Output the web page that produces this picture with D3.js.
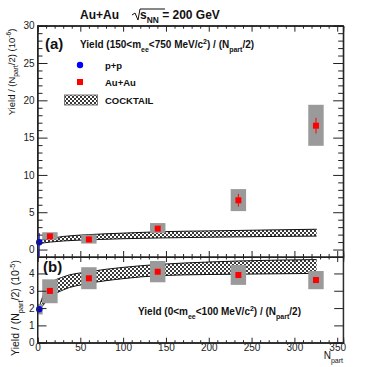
<!DOCTYPE html>
<html>
<head>
<meta charset="utf-8">
<script src="https://cdn.jsdelivr.net/npm/d3@7"></script>
<style>
  body { margin: 0; background: #fff; }
  svg { display: block; font-family: "Liberation Sans", Arial, sans-serif; }
  .tick text { font-size: 10px; fill: #222; }
  .domain { stroke: #222; }
  .tick line { stroke: #222; }
</style>
</head>
<body>
<div id="chart"></div>
<script>
// Npart of the centrality classes
const npart = [14.5, 60.0, 140.4, 234.6, 325.2];
const ppNpart = [2];

// panel (a): 150 < m_ee < 750 MeV/c2, units 1e-6
const aYield = [1.77, 1.35, 2.8, 6.6, 16.6];
const aStat = [0.25, 0.2, 0.3, 0.85, 1.05];
const aSysLo = [0.45, 0.55, 0.6, 1.45, 2.7];
const aSysHi = [0.55, 0.65, 0.75, 1.5, 2.8];
const ppAYield = [0.97];
const ppAErrLo = [1.9];
const ppAErrHi = [1.25];

// panel (b): 0 < m_ee < 100 MeV/c2, units 1e-5
const bYield = [2.99, 3.72, 4.1, 3.91, 3.62];
const bSysLo = [0.71, 0.63, 0.61, 0.57, 0.53];
const bSysHi = [0.67, 0.64, 0.62, 0.58, 0.52];
const ppBYield = [1.93];
const ppBSys = [0.3];

// cocktail bands
const cockX = [2, 8, 15, 30, 60, 100, 141, 200, 235, 280, 326];
const cockAHi = [1.2, 1.35, 1.5, 1.75, 2.0, 2.2, 2.38, 2.5, 2.56, 2.64, 2.72];
const cockALo = [0.8, 0.9, 1.0, 1.15, 1.3, 1.45, 1.55, 1.65, 1.7, 1.76, 1.8];
const cockBHi = [2.05, 2.9, 3.4, 3.8, 4.1, 4.35, 4.52, 4.66, 4.72, 4.77, 4.8];
const cockBLo = [1.9, 2.25, 2.62, 3.05, 3.42, 3.7, 3.87, 3.94, 3.96, 3.98, 4.0];

const xTicks = [0, 50, 100, 150, 200, 250, 300, 350];
const aTicks = [0, 5, 10, 15, 20, 25, 30];
const bTicks = [0, 1, 2, 3, 4];

const width = 382, height = 367;
const left = 37.5, right = 343.2;
const sysHalfW = 9; // box half width in Npart

const svg = d3.select("#chart").append("svg")
    .attr("width", width)
    .attr("height", height);

const x = d3.scaleLinear().domain([0, 357]).range([left, right]);
const ya = d3.scaleLinear().domain([-1, 30]).range([257, 25.7]);
const yb = d3.scaleLinear().domain([0, 4.95]).range([342.7, 257]);

// checker pattern for cocktail
const defs = svg.append("defs");
const pat = defs.append("pattern")
    .attr("id", "hatch")
    .attr("patternUnits", "userSpaceOnUse")
    .attr("width", 4).attr("height", 4);
pat.append("rect").attr("width", 4).attr("height", 4).attr("fill", "#fff");
pat.append("rect").attr("width", 2).attr("height", 2).attr("fill", "#3a3a3a");
pat.append("rect").attr("x", 2).attr("y", 2).attr("width", 2).attr("height", 2).attr("fill", "#3a3a3a");

defs.append("clipPath").attr("id", "clipA").append("rect")
    .attr("x", left).attr("y", ya(30)).attr("width", right - left).attr("height", ya(-1) - ya(30));
defs.append("clipPath").attr("id", "clipB").append("rect")
    .attr("x", left).attr("y", yb(4.95)).attr("width", right - left).attr("height", yb(0) - yb(4.95));

// rich text helper: segments [text, "sub"|"sup"|null]
function richText(g, xp, yp, segs, size, weight, anchor) {
    const t = g.append("text")
        .attr("x", xp).attr("y", yp)
        .attr("font-size", size)
        .attr("font-weight", weight || "normal")
        .attr("text-anchor", anchor || "start")
        .attr("fill", "#111");
    let shift = 0;
    segs.forEach(s => {
        let dy = 0, fs = size;
        if (s[1] === "sub") { dy = size * 0.35; fs = size * 0.7; }
        if (s[1] === "sup") { dy = -size * 0.4; fs = size * 0.7; }
        t.append("tspan").attr("dy", dy - shift).attr("font-size", fs).text(s[0]);
        shift = dy;
    });
    return t;
}

function drawPanel(y, yTicks, yMinor, yMajLen, yMinLen, xMajLen, xMinLen, showXLabels) {
    const g = svg.append("g");
    const y0 = y.range()[0], y1 = y.range()[1];
    // frame
    g.append("rect")
        .attr("x", left).attr("y", y1)
        .attr("width", right - left).attr("height", y0 - y1)
        .attr("fill", "none").attr("stroke", "#222");

    // y axis left (labels) + right
    g.append("g").attr("transform", `translate(${left},0)`)
        .call(d3.axisLeft(y).tickValues(yTicks).tickSize(-yMajLen).tickPadding(3).tickFormat(d3.format("d")));
    g.append("g").attr("transform", `translate(${right},0)`)
        .call(d3.axisRight(y).tickValues(yTicks).tickSize(-yMajLen).tickFormat(""));
    if (yMinor.length) {
        g.append("g").attr("transform", `translate(${left},0)`)
            .call(d3.axisLeft(y).tickValues(yMinor).tickSize(-yMinLen).tickFormat(""));
        g.append("g").attr("transform", `translate(${right},0)`)
            .call(d3.axisRight(y).tickValues(yMinor).tickSize(-yMinLen).tickFormat(""));
    }
    const xMinor = d3.range(0, 357, 10).filter(v => v % 50 !== 0);
    // x axis bottom + top
    g.append("g").attr("transform", `translate(0,${y0})`)
        .call(d3.axisBottom(x).tickValues(xTicks).tickSize(-xMajLen).tickPadding(1)
            .tickFormat(showXLabels ? d3.format("d") : ""));
    g.append("g").attr("transform", `translate(0,${y0})`)
        .call(d3.axisBottom(x).tickValues(xMinor).tickSize(-xMinLen).tickFormat(""));
    g.append("g").attr("transform", `translate(0,${y1})`)
        .call(d3.axisTop(x).tickValues(xTicks).tickSize(-xMajLen).tickFormat(""));
    g.append("g").attr("transform", `translate(0,${y1})`)
        .call(d3.axisTop(x).tickValues(xMinor).tickSize(-xMinLen).tickFormat(""));
    g.selectAll(".domain").attr("stroke", "#222");
    return g;
}

function drawData(y, clip, yld, stat, sysLo, sysHi, cHi, cLo, ppY, ppLo, ppHi, ppSys) {
    const g = svg.append("g").attr("clip-path", `url(#${clip})`);
    // cocktail band
    const pts = cockX.map((v, i) => ({ x: v, hi: cHi[i], lo: cLo[i] }));
    g.append("path").datum(pts)
        .attr("fill", "url(#hatch)")
        .attr("d", d3.area().curve(d3.curveMonotoneX).x(d => x(d.x)).y0(d => y(d.lo)).y1(d => y(d.hi)));
    ["hi", "lo"].forEach(k => {
        g.append("path").datum(pts)
            .attr("fill", "none").attr("stroke", "#111").attr("stroke-width", 1)
            .attr("d", d3.line().curve(d3.curveMonotoneX).x(d => x(d.x)).y(d => y(d[k])));
    });
    // systematic boxes
    g.selectAll(".sys").data(npart).enter().append("rect")
        .attr("x", d => x(d - sysHalfW))
        .attr("width", d => x(d + sysHalfW) - x(d - sysHalfW))
        .attr("y", (d, i) => y(yld[i] + sysHi[i]))
        .attr("height", (d, i) => y(yld[i] - sysLo[i]) - y(yld[i] + sysHi[i]))
        .attr("fill", "#9a9a9a");
    if (ppSys) {
        g.selectAll(".ppsys").data(ppNpart).enter().append("rect")
            .attr("x", d => x(d - 4))
            .attr("width", d => x(d + 4) - x(d - 4))
            .attr("y", (d, i) => y(ppY[i] + ppSys[i]))
            .attr("height", (d, i) => y(ppY[i] - ppSys[i]) - y(ppY[i] + ppSys[i]))
            .attr("fill", "#9a9a9a");
    }
    // stat bars
    if (stat) {
        g.selectAll(".stat").data(npart).enter().append("line")
            .attr("x1", d => x(d)).attr("x2", d => x(d))
            .attr("y1", (d, i) => y(yld[i] - stat[i]))
            .attr("y2", (d, i) => y(yld[i] + stat[i]))
            .attr("stroke", "#f00").attr("stroke-width", 1);
    }
    if (ppLo) {
        g.selectAll(".ppstat").data(ppNpart).enter().append("line")
            .attr("x1", d => x(d)).attr("x2", d => x(d))
            .attr("y1", (d, i) => y(ppY[i] - ppLo[i]))
            .attr("y2", (d, i) => y(ppY[i] + ppHi[i]))
            .attr("stroke", "#00f").attr("stroke-width", 1);
    }
    // markers
    g.selectAll(".au").data(npart).enter().append("rect")
        .attr("x", d => x(d) - 3).attr("y", (d, i) => y(yld[i]) - 3)
        .attr("width", 6).attr("height", 6)
        .attr("fill", "#f00");
    svg.selectAll(null).data(ppNpart).enter().append("circle")
        .attr("cx", d => x(d)).attr("cy", (d, i) => y(ppY[i]))
        .attr("r", 3.2).attr("fill", "#00f");
}

drawData(ya, "clipA", aYield, aStat, aSysLo, aSysHi, cockAHi, cockALo, ppAYield, ppAErrLo, ppAErrHi, null);
drawData(yb, "clipB", bYield, null, bSysLo, bSysHi, cockBHi, cockBLo, ppBYield, null, null, ppBSys);

drawPanel(ya, aTicks, d3.range(-1, 31).filter(v => v % 5 !== 0), 10, 5, 6, 3, false);
drawPanel(yb, bTicks, [], 9, 4, 5, 2.5, true);

// title
const tg = svg.append("g");
tg.append("text").attr("x", 80).attr("y", 19).attr("font-size", 12).attr("font-weight", "bold")
    .attr("fill", "#111").text("Au+Au");
richText(tg, 140, 19, [["s", null], ["NN", "sub"], [" = 200 GeV", null]], 12, "bold");
tg.append("path").attr("d", "M132,15 L135,13 L138,20 L140,9 L165,9")
    .attr("fill", "none").attr("stroke", "#111").attr("stroke-width", 1);

// panel labels
svg.append("text").attr("x", 45).attr("y", 49).attr("font-size", 15).attr("font-weight", "bold")
    .attr("fill", "#111").text("(a)");
svg.append("text").attr("x", 43).attr("y", 272).attr("font-size", 15).attr("font-weight", "bold")
    .attr("fill", "#111").text("(b)");

richText(svg, 80, 48, [["Yield (150<m", null], ["ee", "sub"], ["<750 MeV/c", null], ["2", "sup"],
    [") / (N", null], ["part", "sub"], ["/2)", null]], 10, "bold");
richText(svg, 138, 315, [["Yield (0<m", null], ["ee", "sub"], ["<100 MeV/c", null], ["2", "sup"],
    [") / (N", null], ["part", "sub"], ["/2)", null]], 10, "bold");

// legend
svg.append("circle").attr("cx", 80).attr("cy", 65).attr("r", 3.2).attr("fill", "#00f");
svg.append("rect").attr("x", 77).attr("y", 79).attr("width", 6).attr("height", 6).attr("fill", "#f00");
svg.append("rect").attr("x", 64.5).attr("y", 95).attr("width", 33).attr("height", 10)
    .attr("fill", "url(#hatch)").attr("stroke", "#777");
[["p+p", 69], ["Au+Au", 86], ["COCKTAIL", 104]].forEach(d => {
    svg.append("text").attr("x", 105).attr("y", d[1]).attr("font-size", 9.5).attr("font-weight", "bold")
        .attr("fill", "#111").text(d[0]);
});

// axis titles
const ta = svg.append("g").attr("transform", "translate(15,72) rotate(-90)");
richText(ta, 0, 0, [["Yield / (N", null], ["part", "sub"], ["/2) (10", null], ["-6", "sup"], [")", null]], 9.5, "normal", "middle");
const tb = svg.append("g").attr("transform", "translate(19,308) rotate(-90)");
richText(tb, 0, 0, [["Yield / (N", null], ["part", "sub"], ["/2) (10", null], ["-5", "sup"], [")", null]], 10.5, "normal", "middle");
richText(svg, 343, 359, [["N", null], ["part", "sub"]], 10, "normal", "end");
</script>
</body>
</html>
